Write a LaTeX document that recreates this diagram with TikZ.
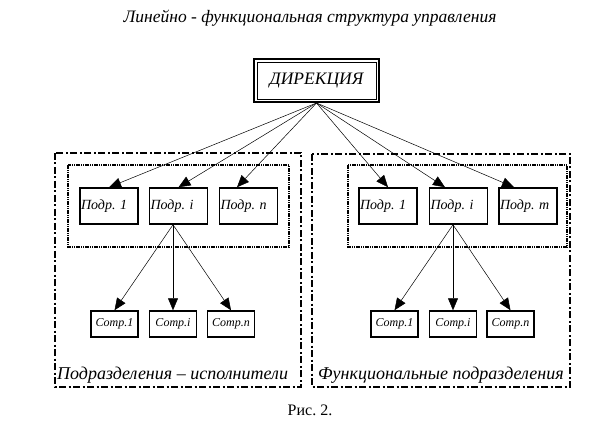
\documentclass[tikz,border=0pt]{standalone}
\usepackage{fontspec}
\setmainfont{Liberation Serif}
\usetikzlibrary{arrows.meta}

\begin{document}
\frenchspacing
\begin{tikzpicture}[x=1pt, y=-1pt]

\tikzset{dept/.style = {draw, line width=1.5pt, minimum height=36pt, inner sep=1pt, text width=56pt, align=left, font=\fontsize{14}{14}\selectfont\itshape}}
\tikzset{staff/.style = {draw, line width=1.5pt, minimum width=47pt, minimum height=26pt, inner sep=0pt, font=\fontsize{12}{12}\selectfont\itshape}}
\tikzset{edge/.style = {-{Triangle[length=12pt,width=10pt]}, line width=0.5pt}}
\tikzset{outerbox/.style = {line width=2pt, dash pattern=on 7pt off 2.5pt on 2pt off 2.5pt}}
\tikzset{innerbox/.style = {line width=1.5pt, dash pattern=on 4pt off 1pt on 1pt off 1pt on 1pt off 1pt}}

\useasboundingbox (0,0) rectangle (612,443);

% title and head
\node[font=\fontsize{17.5}{17.5}\selectfont\itshape] (title) at (310,18) {Линейно - функциональная структура управления};
\node[draw, line width=2pt, minimum width=125pt, minimum height=43pt, font=\fontsize{17.5}{17.5}\selectfont\itshape] (dir) at (316.5,80.5) {ДИРЕКЦИЯ};
\draw[line width=0.9pt] ([shift={(4pt,4pt)}]dir.south west) rectangle ([shift={(-4pt,-4pt)}]dir.north east);

% groups
\draw[outerbox] (55,153) rectangle (301,387);
\draw[innerbox] (68,165) rectangle (289,247);
\draw[outerbox] (312,154) rectangle (570,387);
\draw[innerbox] (348,165) rectangle (567,247);

% departments
\node[dept] (p1) at (109,206) {Подр. 1};
\node[dept] (pi) at (178.5,206) {Подр. i};
\node[dept] (pn) at (248.5,206) {Подр. n};
\node[dept] (q1) at (388,206) {Подр. 1};
\node[dept] (qi) at (458.5,206) {Подр. i};
\node[dept] (qm) at (528,206) {Подр. m};

% staff
\node[staff] (c1) at (114.5,324) {Сотр.1};
\node[staff] (ci) at (173,324) {Сотр.i};
\node[staff] (cn) at (231,324) {Сотр.n};
\node[staff] (d1) at (394.5,324) {Сотр.1};
\node[staff] (di) at (453,324) {Сотр.i};
\node[staff] (dn) at (510.5,324) {Сотр.n};

% labels
\node[anchor=base west, inner sep=0pt, font=\fontsize{18}{18}\selectfont\itshape] (lblA) at (57,379) {Подразделения – исполнители};
\node[anchor=base west, inner sep=0pt, font=\fontsize{18}{18}\selectfont\itshape] (lblB) at (318,379) {Функциональные подразделения};
\node[font=\fontsize{16}{16}\selectfont] (cap) at (310,410) {Рис. 2.};

% edges
\draw[edge] (dir.south) -- (p1.north);
\draw[edge] (dir.south) -- (pi.north);
\draw[edge] (dir.south) -- ([xshift=-11.5pt]pn.north);
\draw[edge] (dir.south) -- (q1.north);
\draw[edge] (dir.south) -- ([xshift=-13.5pt]qi.north);
\draw[edge] (dir.south) -- ([xshift=-14pt]qm.north);
\draw[edge] (pi.south -| ci.north) -- (c1.north);
\draw[edge] (pi.south -| ci.north) -- (ci.north);
\draw[edge] (pi.south -| ci.north) -- (cn.north);
\draw[edge] (qi.south -| di.north) -- (d1.north);
\draw[edge] (qi.south -| di.north) -- (di.north);
\draw[edge] (qi.south -| di.north) -- (dn.north);

\end{tikzpicture}
\end{document}
